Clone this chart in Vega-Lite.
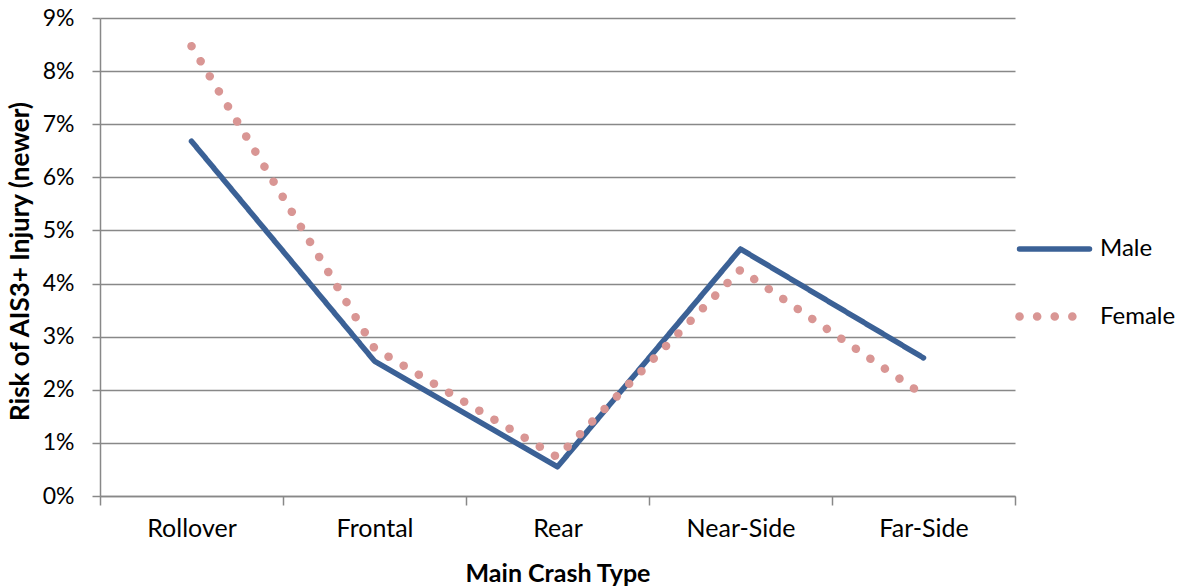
{
  "$schema": "https://vega.github.io/schema/vega-lite/v6.json",
  "width": 915,
  "height": 478,
  "autosize": {"type": "none"},
  "padding": {"left": 100, "top": 18, "right": 165, "bottom": 92},
  "background": "white",
  "config": {
    "font": "Lato",
    "view": {"stroke": null}
  },
  "data": {
    "values": [
      {"type": "Rollover", "sex": "Male", "risk": 0.0668},
      {"type": "Frontal", "sex": "Male", "risk": 0.0254},
      {"type": "Rear", "sex": "Male", "risk": 0.0055},
      {"type": "Near-Side", "sex": "Male", "risk": 0.0465},
      {"type": "Far-Side", "sex": "Male", "risk": 0.026},
      {"type": "Rollover", "sex": "Female", "risk": 0.0847},
      {"type": "Frontal", "sex": "Female", "risk": 0.0278},
      {"type": "Rear", "sex": "Female", "risk": 0.0073},
      {"type": "Near-Side", "sex": "Female", "risk": 0.0426},
      {"type": "Far-Side", "sex": "Female", "risk": 0.019}
    ]
  },
  "mark": {"type": "line", "strokeCap": "round", "strokeJoin": "round"},
  "encoding": {
    "x": {
      "field": "type",
      "type": "nominal",
      "sort": ["Rollover", "Frontal", "Rear", "Near-Side", "Far-Side"],
      "scale": {"type": "band", "paddingInner": 0, "paddingOuter": 0},
      "bandPosition": 0.5,
      "axis": {
        "title": "Main Crash Type",
        "titleFontSize": 25,
        "titleFontWeight": "bold",
        "titleColor": "black",
        "titleY": 77,
        "titleBaseline": "middle",
        "labelAngle": 0,
        "labelFontSize": 25,
        "labelColor": "black",
        "labelPadding": 11,
        "tickBand": "extent",
        "tickSize": 9,
        "tickWidth": 1.5,
        "tickColor": "#888888",
        "domainColor": "#888888",
        "domainWidth": 1.5,
        "grid": false
      }
    },
    "y": {
      "field": "risk",
      "type": "quantitative",
      "scale": {"domain": [0, 0.09], "nice": false},
      "axis": {
        "title": "Risk of AIS3+ Injury (newer)",
        "titleFontSize": 26,
        "titleFontWeight": "bold",
        "titleColor": "black",
        "titleX": -80,
        "titleY": 243,
        "titleAngle": -90,
        "titleAlign": "center",
        "titleBaseline": "middle",
        "values": [0, 0.01, 0.02, 0.03, 0.04, 0.05, 0.06, 0.07, 0.08, 0.09],
        "format": ".0%",
        "labelFontSize": 23,
        "labelColor": "black",
        "labelPadding": 18,
        "tickSize": 8,
        "tickWidth": 1.5,
        "tickColor": "#888888",
        "domainColor": "#888888",
        "domainWidth": 1.5,
        "grid": true,
        "gridColor": "#888888",
        "gridWidth": 1.5
      }
    },
    "color": {
      "field": "sex",
      "type": "nominal",
      "scale": {"domain": ["Male", "Female"], "range": ["#3B6196", "#D99694"]},
      "legend": {
        "title": null,
        "orient": "none",
        "legendX": 915,
        "legendY": 193,
        "symbolType": "stroke",
        "symbolSize": 4900,
        "symbolStrokeWidth": 5,
        "labelFontSize": 24,
        "labelColor": "black",
        "labelOffset": 6,
        "rowPadding": 16,
        "encode": {
          "symbols": {
            "update": {
              "strokeCap": {"value": "round"},
              "strokeWidth": [{"test": "datum.value === 'Female'", "value": 8}, {"value": 5}],
              "strokeDash": [{"test": "datum.value === 'Female'", "value": [0.1, 18]}, {"value": [1, 0]}]
            }
          }
        }
      }
    },
    "strokeDash": {
      "field": "sex",
      "type": "nominal",
      "scale": {"domain": ["Male", "Female"], "range": [[1, 0], [0.1, 17.5]]},
      "legend": null
    },
    "strokeWidth": {
      "field": "sex",
      "type": "ordinal",
      "scale": {"domain": ["Male", "Female"], "range": [5.5, 8.5]},
      "legend": null
    }
  }
}
